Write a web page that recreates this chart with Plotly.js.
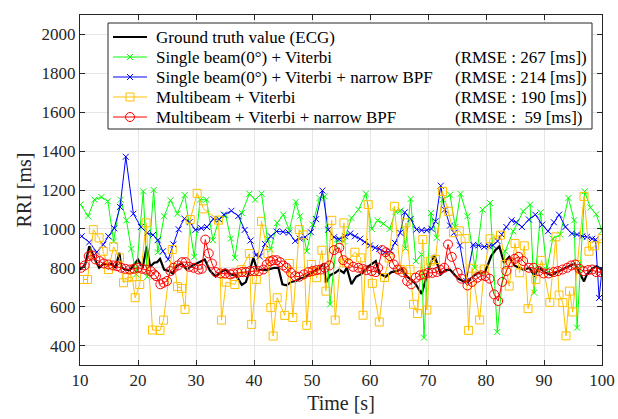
<!DOCTYPE html>
<html>
<head>
<meta charset="utf-8">
<script src="https://cdn.plot.ly/plotly-3.0.1.min.js"></script>
<style>html,body{margin:0;padding:0;background:#fff}#chart{width:618px;height:419px}</style>
</head>
<body>
<div id="chart"></div>
<script>
// ---- data ----
const seriesNames = [
  "Ground truth value (ECG)",
  "Single beam(0°) + Viterbi",
  "Single beam(0°) + Viterbi + narrow BPF",
  "Multibeam + Viterbi",
  "Multibeam + Viterbi + narrow BPF"
];
const rmseLabels = ["", "(RMSE : 267 [ms])", "(RMSE : 214 [ms])", "(RMSE : 190 [ms])", "(RMSE :  59 [ms])"];

const tEcg = [10.0,10.3,10.9,11.6,12.2,12.8,13.3,14.1,14.7,15.4,16.1,16.8,17.1,17.7,18.6,19.3,20.0,20.8,21.5,22.1,22.8,23.3,23.8,24.5,25.4,26.0,26.6,27.5,28.4,29.4,30.4,31.5,32.4,33.4,34.1,35.0,36.0,36.9,37.9,38.6,39.3,39.9,40.5,41.3,42.2,43.5,44.2,44.9,45.6,46.4,47.2,47.9,48.6,49.5,50.5,51.3,52.0,52.4,53.1,54.0,54.7,55.5,56.0,56.8,57.6,58.6,59.4,60.1,61.0,61.6,62.7,63.7,64.6,65.5,66.4,67.3,67.9,68.9,69.8,70.4,71.1,72.2,73.0,73.8,75.2,76.0,76.9,77.8,78.6,79.7,80.35,80.9,81.6,82.3,83.1,84.0,84.9,85.7,86.5,87.5,88.3,89.2,90.3,91.3,92.3,93.0,94.4,95.3,96.9,97.4,98.3,99.0,100.0];
const rriEcg = [790,800,817,911,868,829,800,822,812,822,800,877,805,791,788,817,843,800,910,805,826,829,846,791,783,770,808,822,791,812,826,843,785,755,774,791,766,761,712,726,791,851,791,790,788,800,800,715,710,727,732,745,750,766,783,800,822,723,762,774,790,774,800,716,754,770,800,815,834,771,754,778,783,795,754,735,715,665,761,820,865,766,788,790,744,732,727,757,774,771,817,860,890,910,826,856,812,800,790,800,761,800,774,761,780,788,810,822,730,766,795,808,791];

const tSingle = [10.1,11.4,12.5,13.7,14.8,15.8,17.0,18.0,18.85,19.7,20.9,21.6,22.7,23.4,24.5,25.6,26.8,28.05,29.7,30.7,31.8,32.9,34.0,35.1,36.0,36.7,37.9,39.2,40.2,41.3,42.3,42.9,44.0,45.05,46.1,47.2,47.9,49.1,50.1,51.3,52.2,53.1,54.3,55.5,56.8,58.0,59.3,60.3,61.3,62.3,63.4,64.4,65.3,66.1,67.0,67.9,68.9,69.3,70.5,71.5,72.5,73.8,74.7,75.6,76.8,78.1,79.4,80.7,81.95,83.3,84.7,86.4,87.6,88.3,89.4,90.5,91.5,92.8,94.2,95.2,95.7,97.0,98.0,99.0,100.0];
const rriSingle = [1125,1065,1150,1164,1142,937,1150,1044,897,766,1193,754,1200,880,1065,1147,1078,1174,856,1150,1150,942,1051,1070,950,851,1082,1181,1150,1181,950,894,1031,1073,993,1138,1065,885,1022,1159,1167,612,945,936,1056,1099,1181,1000,1044,1027,1000,1090,1095,900,1154,834,868,441,1082,954,1150,1176,1010,1180,1065,800,1099,1133,470,885,988,1090,1125,672,1085,790,950,971,1159,1044,492,1193,1110,1075,990];

const tSingleBpf = [10.3,11.6,12.9,14.0,14.9,15.9,16.9,17.9,19.2,20.5,21.6,22.6,23.4,24.3,25.2,26.1,27.0,28.0,28.9,29.9,30.9,31.9,33.0,34.0,34.8,36.1,37.3,38.4,39.4,40.3,41.0,41.9,42.9,43.9,45.0,46.0,47.1,47.9,48.8,49.8,50.7,51.8,52.8,53.8,54.7,55.7,56.6,57.4,58.3,59.1,60.0,60.9,61.6,62.5,63.5,64.3,65.2,66.0,67.0,68.0,68.9,69.8,70.6,71.3,72.2,72.9,73.8,74.5,75.5,76.6,77.8,78.7,79.7,80.5,81.2,82.0,82.7,83.5,84.4,85.2,86.2,87.4,88.5,89.7,90.7,91.7,92.6,93.7,94.8,95.7,96.6,97.4,98.3,98.9,99.5,100.0];
const rriSingleBpf = [962,931,880,919,962,1003,1113,1371,1078,1010,979,969,942,885,843,920,998,1053,1035,995,1004,1010,1051,1048,1073,1093,1066,995,940,865,858,922,962,987,985,980,938,950,958,983,1050,1197,996,957,947,962,976,962,949,932,915,903,897,880,885,928,980,1085,1051,997,993,993,1000,1039,1222,1099,1017,980,915,732,918,915,908,911,915,937,971,1010,1044,1034,1010,1048,1073,1022,988,1034,1073,1010,976,971,962,959,949,945,645,790];

const tMulti = [10.6,11.3,12.3,13.3,14.0,14.9,15.8,16.8,17.5,18.1,19.0,19.5,20.3,21.4,22.5,23.8,24.4,25.9,26.8,27.5,28.1,29.0,30.2,31.3,33.9,34.4,35.2,36.7,37.8,39.2,39.6,40.4,41.3,42.4,42.9,43.3,44.0,45.3,46.1,46.7,47.8,48.5,49.1,49.9,50.8,51.7,52.4,53.4,54.0,55.5,55.9,57.4,58.4,58.8,59.7,60.4,61.6,62.5,63.3,64.2,65.2,66.2,66.9,67.5,68.2,69.1,69.8,70.4,71.3,72.5,73.5,74.4,75.4,76.4,77.0,77.6,78.9,79.7,80.7,82.5,83.3,84.0,85.0,85.8,86.6,87.25,88.6,89.6,91.0,92.05,92.6,93.25,93.8,94.4,94.95,95.8,96.9,97.75,98.7,100.0];
const rriMulti = [740,740,996,954,885,791,908,851,723,749,754,646,714,1031,480,478,531,894,703,694,586,1048,1183,1103,1045,531,726,714,790,873,509,740,1039,873,595,449,646,555,822,544,996,969,504,817,749,890,680,1044,531,1031,826,880,851,556,1125,720,521,750,850,1116,791,1031,791,612,565,945,583,834,843,1193,1090,980,990,950,478,798,532,793,949,968,817,706,925,774,913,590,740,838,622,959,660,621,450,680,573,817,1167,885,913,950];

const tMultiBpf = [10.2,10.8,11.5,12.1,12.65,13.4,14.1,14.9,15.7,16.4,17.1,17.8,18.6,19.3,20.0,20.7,21.4,22.2,22.8,23.1,23.85,24.4,25.0,25.6,26.15,26.9,27.6,28.2,28.85,29.6,30.45,31.0,31.6,32.2,32.75,33.4,34.2,35.05,35.9,36.4,37.2,37.9,38.6,39.3,40.05,40.8,41.6,42.2,42.8,43.3,43.9,44.5,45.05,45.6,46.4,47.1,47.8,48.6,49.4,50.1,50.8,51.5,52.2,53.0,53.8,54.7,55.4,56.3,57.1,58.0,58.7,59.4,60.3,61.0,61.4,62.1,62.7,63.45,64.1,64.8,65.6,66.4,67.1,67.9,68.6,69.3,70.0,70.75,71.5,72.1,72.8,73.45,74.1,75.1,75.75,76.8,77.6,78.5,79.2,79.9,80.6,81.4,82.1,82.8,83.5,84.25,84.95,85.6,86.4,87.4,88.2,89.1,89.9,90.8,91.7,92.4,93.2,94.0,94.7,95.4,96.1,96.8,97.6,98.3,99.0,99.7];
const rriMultiBpf = [800,812,860,863,843,834,822,817,812,808,800,795,791,795,800,795,791,783,766,757,715,723,732,783,800,812,829,829,805,800,791,795,945,874,822,778,771,771,766,771,774,778,778,783,783,783,791,817,834,839,839,829,812,800,774,757,754,766,778,783,788,791,800,812,891,903,839,822,805,800,795,788,783,778,800,891,880,860,817,791,778,732,715,749,761,766,774,774,778,790,800,920,856,774,744,709,727,749,761,757,744,663,629,727,783,829,846,856,835,800,800,783,771,771,778,783,791,800,812,817,795,783,788,791,778,778];

const xTicks = [10,20,30,40,50,60,70,80,90,100];
const yTicks = [400,600,800,1000,1200,1400,1600,1800,2000];

// ---- styles ----
const FONT = "Liberation Serif, Times New Roman, serif";
const styles = [
  {line: {color: "#000000", width: 2.2}, mode: "lines"},
  {line: {color: "#00ff00", width: 1}, mode: "lines+markers",
   marker: {symbol: "x-thin", size: 6, color: "#00ff00", line: {color: "#00ff00", width: 1}}},
  {line: {color: "#0000ff", width: 1}, mode: "lines+markers",
   marker: {symbol: "x-thin", size: 6, color: "#0000ff", line: {color: "#0000ff", width: 1}}},
  {line: {color: "#ffc000", width: 1}, mode: "lines+markers",
   marker: {symbol: "square-open", size: 8, color: "#ffc000", line: {color: "#ffc000", width: 1}}},
  {line: {color: "#ff0000", width: 1}, mode: "lines+markers",
   marker: {symbol: "circle-open", size: 9, color: "#ff0000", line: {color: "#ff0000", width: 1}}}
];
const xs = [tEcg, tSingle, tSingleBpf, tMulti, tMultiBpf];
const ys = [rriEcg, rriSingle, rriSingleBpf, rriMulti, rriMultiBpf];

const traces = xs.map((x, i) => Object.assign({
  x: x, y: ys[i], name: seriesNames[i], type: "scatter", showlegend: false, hoverinfo: "skip"
}, styles[i]));

// ---- legend (drawn on an overlay axis measured in pixels) ----
const box = {l: 108, r: 592, t: 23, b: 129};
const rowY = [37, 57, 77, 97, 117];
const sample = {x0: 113, x1: 147, xm: 130, text: 154, rmse: 453};

traces.push({
  x: [box.l, box.r, box.r, box.l, box.l], y: [box.t, box.t, box.b, box.b, box.t],
  xaxis: "x2", yaxis: "y2", mode: "lines", fill: "toself", fillcolor: "#ffffff",
  line: {color: "#262626", width: 1}, showlegend: false, hoverinfo: "skip"
});
styles.forEach((s, i) => {
  traces.push({x: [sample.x0, sample.x1], y: [rowY[i], rowY[i]], xaxis: "x2", yaxis: "y2",
    mode: "lines", line: s.line, showlegend: false, hoverinfo: "skip"});
  if (s.marker) {
    traces.push({x: [sample.xm], y: [rowY[i]], xaxis: "x2", yaxis: "y2",
      mode: "markers", marker: s.marker, showlegend: false, hoverinfo: "skip"});
  }
});

const annotations = [];
seriesNames.forEach((n, i) => {
  annotations.push({xref: "x2", yref: "y2", x: sample.text, y: rowY[i], xanchor: "left", yanchor: "middle",
    text: n, showarrow: false, font: {family: FONT, size: 17, color: "#000"}});
  if (rmseLabels[i]) {
    annotations.push({xref: "x2", yref: "y2", x: sample.rmse, y: rowY[i], xanchor: "left", yanchor: "middle",
      text: rmseLabels[i].replace(/  /g, " &nbsp;"), showarrow: false, font: {family: FONT, size: 17, color: "#000"}});
  }
});

const axisCommon = {
  showline: true, linecolor: "#262626", linewidth: 1, mirror: "ticks",
  ticks: "inside", ticklen: 5, tickcolor: "#262626",
  showgrid: true, gridcolor: "#e6e6e6", gridwidth: 1, zeroline: false,
  tickfont: {family: FONT, size: 17, color: "#262626"}
};

const layout = {
  width: 618, height: 419,
  margin: {l: 80, r: 16, t: 15, b: 54},
  paper_bgcolor: "#ffffff", plot_bgcolor: "#ffffff",
  font: {family: FONT, color: "#262626"},
  showlegend: false,
  xaxis: Object.assign({}, axisCommon, {
    range: [10, 100], tickvals: xTicks, ticktext: xTicks.map(String),
    title: {text: "Time [s]", font: {family: FONT, size: 20, color: "#262626"}, standoff: 6}
  }),
  yaxis: Object.assign({}, axisCommon, {
    range: [300, 2100], tickvals: yTicks, ticktext: yTicks.map(String),
    title: {text: "RRI [ms]", font: {family: FONT, size: 20, color: "#262626"}, standoff: 4}
  }),
  xaxis2: {overlaying: "x", anchor: "y2", range: [80, 602], visible: false, showgrid: false, zeroline: false},
  yaxis2: {overlaying: "y", anchor: "x2", range: [365, 15], visible: false, showgrid: false, zeroline: false},
  annotations: annotations
};

Plotly.newPlot("chart", traces, layout, {staticPlot: true, displayModeBar: false});
</script>
</body>
</html>
